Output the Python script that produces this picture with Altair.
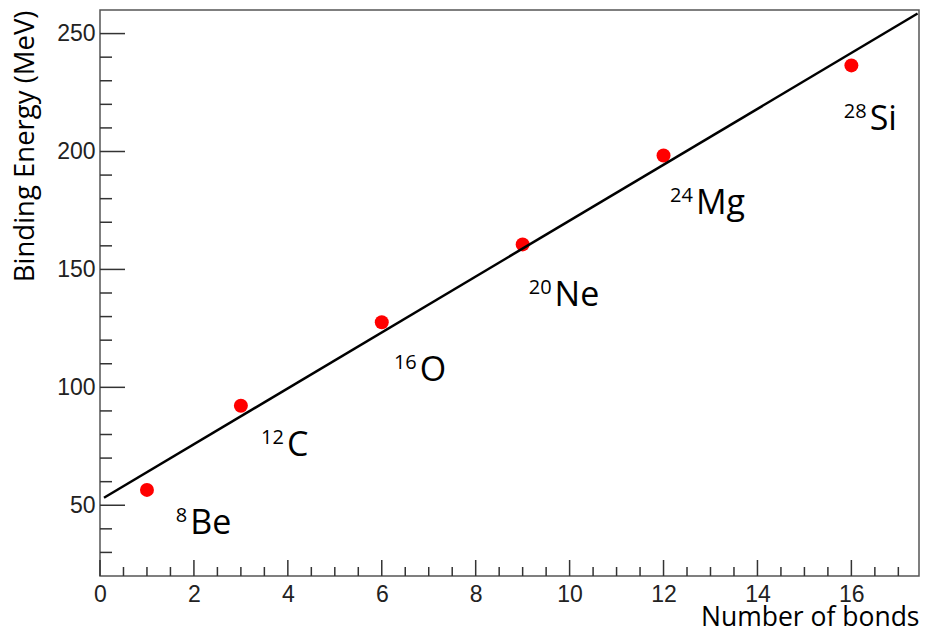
import altair as alt
import pandas as pd

# ---- data ----
bonds = [1, 3, 6, 9, 12, 16]
binding_energy = [56.5, 92.2, 127.6, 160.6, 198.3, 236.5]
mass_numbers = ["8", "12", "16", "20", "24", "28"]
elements = ["Be", "C", "O", "Ne", "Mg", "Si"]
label_x = [1.92, 3.98, 6.81, 9.68, 12.69, 16.39]
label_y = [37.8, 71.0, 102.8, 134.6, 173.7, 209.0]
fit_x = [0.085, 17.41]
fit_y = [53.2, 258.5]

x_major = [0, 2, 4, 6, 8, 10, 12, 14, 16]
x_minor = [0.5, 1, 1.5, 2.5, 3, 3.5, 4.5, 5, 5.5, 6.5, 7, 7.5, 8.5, 9, 9.5,
           10.5, 11, 11.5, 12.5, 13, 13.5, 14.5, 15, 15.5, 16.5, 17]
y_major = [50, 100, 150, 200, 250]
y_minor = [30, 40, 60, 70, 80, 90, 110, 120, 130, 140, 160, 170, 180, 190,
           210, 220, 230, 240]

W, H = 819, 566
xscale = alt.Scale(domain=[0, 17.44], nice=False, zero=False)
yscale = alt.Scale(domain=[20, 260], nice=False, zero=False)

pts = pd.DataFrame({"x": bonds, "y": binding_energy})
fit = pd.DataFrame({"x": fit_x, "y": fit_y})
labels = pd.DataFrame({"x": label_x, "y": label_y, "A": mass_numbers, "el": elements})

TFONT = "Open Sans"

xaxis = alt.Axis(
    title="Number of bonds", values=x_major, grid=False, domain=False, ticks=False,
    labelFont="Liberation Sans", labelFontSize=23, labelColor="#222", labelPadding=7,
    labelFlush=False, labelOverlap=False,
    titleFont=TFONT, titleFontSize=26.5, titleFontWeight="normal", titleColor="black",
    titleX=W, titleY=49, titleAlign="right", titleBaseline="alphabetic",
)
yaxis = alt.Axis(
    title="Binding Energy (MeV)", values=y_major, grid=False, domain=False, ticks=False,
    labelFont="Liberation Sans", labelFontSize=23, labelColor="#222", labelPadding=5,
    labelFlush=False, labelOverlap=False,
    titleFont=TFONT, titleFontSize=27.5, titleFontWeight="normal", titleColor="black",
    titleX=-75, titleY=0, titleAngle=270, titleAlign="right", titleBaseline="middle",
)

def X():
    return alt.X("x:Q", scale=xscale, axis=xaxis)

def Y():
    return alt.Y("y:Q", scale=yscale, axis=yaxis)

points = alt.Chart(pts).mark_circle(size=195, color="#ff0000", opacity=1).encode(x=X(), y=Y())

line = alt.Chart(fit).mark_line(color="black", strokeWidth=2.5).encode(x=X(), y=Y())

def xticks(vals, length):
    return alt.Chart(pd.DataFrame({"x": vals})).mark_rule(color="#333", strokeWidth=1.5).encode(
        x=X(), y=alt.value(H), y2=alt.value(H - length),
    )

def yticks(vals, length):
    return alt.Chart(pd.DataFrame({"y": vals})).mark_rule(color="#333", strokeWidth=1.5).encode(
        y=Y(), x=alt.value(0), x2=alt.value(length),
    )

sup = alt.Chart(labels).mark_text(
    align="right", baseline="alphabetic", dx=-3, dy=-12, fontSize=20, font=TFONT, color="black"
).encode(x=X(), y=Y(), text="A:N")

elem = alt.Chart(labels).mark_text(
    align="left", baseline="alphabetic", fontSize=34, font=TFONT, color="black"
).encode(x=X(), y=Y(), text="el:N")

chart = alt.layer(
    points, xticks(x_major, 16), xticks(x_minor, 9), yticks(y_major, 25), yticks(y_minor, 12),
    line, sup, elem,
).properties(
    width=W, height=H, autosize="none",
    padding={"left": 92, "top": 2, "right": 1, "bottom": 50},
).configure_view(stroke="#555", strokeWidth=1.5)

chart.save("out.html", embed_options={"renderer": "svg", "actions": False})
